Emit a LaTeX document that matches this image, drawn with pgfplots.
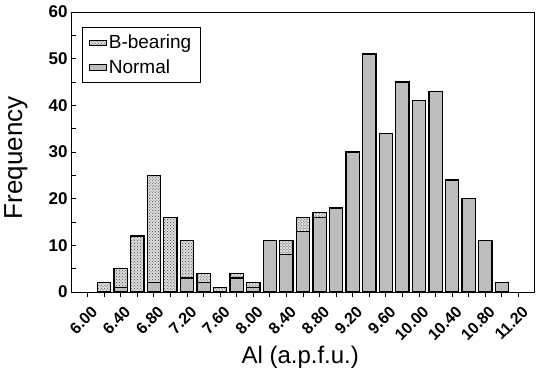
\documentclass[border=0pt]{standalone}
\usepackage{pgfplots}
\pgfplotsset{compat=1.18}
\usetikzlibrary{patterns}
\usepackage{fontspec}
\setmainfont{Liberation Sans}
\begin{document}
\begin{tikzpicture}
\begin{axis}[
  scale only axis,
  width=464bp, height=280bp,
  at={(0,0)}, anchor=south west,
  xmin=5.8, xmax=11.4,
  ymin=0, ymax=60,
  ybar, bar shift=0pt,
  bar width=0.16,
  axis line style={line width=1pt},
  xtick={6.0,6.4,...,11.3},
  minor x tick num=1,
  ytick={0,10,...,60},
  minor y tick num=1,
  tick align=inside,
  xtick pos=lower, ytick pos=left,
  major tick length=5bp, minor tick length=5bp,
  tick style={black, line width=0.9pt},
  x tick style={yshift=-5bp},
  xticklabel style={xshift=7bp, yshift=-17bp, rotate=45, anchor=east, inner sep=0pt,
    font=\fontsize{16bp}{18bp}\selectfont\bfseries,
    /pgf/number format/.cd, fixed, fixed zerofill, precision=2},
  yticklabel style={font=\fontsize{17bp}{19bp}\selectfont\bfseries},
  /pgf/number format/assume math mode=true,
  xlabel={Al (a.p.f.u.)},
  ylabel={Frequency},
  every axis x label/.style={at={(axis description cs:0.494,-0.232)}, anchor=center, font=\fontsize{24bp}{26bp}\selectfont},
  every axis y label/.style={at={(axis description cs:-0.119,0.48)}, rotate=90, anchor=center, font=\fontsize{26bp}{28bp}\selectfont},
  legend style={at={(axis description cs:0.023,0.947)}, anchor=north west, draw=black, line width=0.8pt,
    font=\fontsize{19bp}{21bp}\selectfont, row sep=5bp, inner xsep=7bp, inner ysep=6bp,
    /tikz/every even column/.append style={column sep=4bp}},
  legend cell align=left,
]
\addlegendimage{area legend, draw=black, line width=0.8pt, fill=gray!25, postaction={pattern=crosshatch dots, pattern color=black!75}}
\addlegendentry{B-bearing}
\addlegendimage{area legend, draw=black, line width=0.8pt, fill=black!26}
\addlegendentry{Normal}
% totals (B-bearing + Normal), drawn with the B-bearing pattern
\addplot[forget plot, draw=black, line width=1.2pt, fill=gray!25, postaction={pattern=crosshatch dots, pattern color=black!75}] coordinates {
(6.2,2) (6.4,5) (6.6,12) (6.8,25) (7.0,16) (7.2,11) (7.4,4) (7.6,1) (7.8,4) (8.0,2)
(8.4,11) (8.6,16) (8.8,17)};
% Normal part, drawn over the totals
\addplot[forget plot, draw=black, line width=1.2pt, fill=black!26] coordinates {
(6.4,1) (6.8,2) (7.2,3) (7.4,2) (7.8,3) (8.0,1)
(8.2,11) (8.4,8) (8.6,13) (8.8,16) (9.0,18) (9.2,30) (9.4,51) (9.6,34) (9.8,45) (10.0,41)
(10.2,43) (10.4,24) (10.6,20) (10.8,11) (11.0,2)};
\end{axis}
\pgfresetboundingbox
\path[use as bounding box] (-71bp,-89bp) rectangle (466bp,292bp);
\end{tikzpicture}
\end{document}
